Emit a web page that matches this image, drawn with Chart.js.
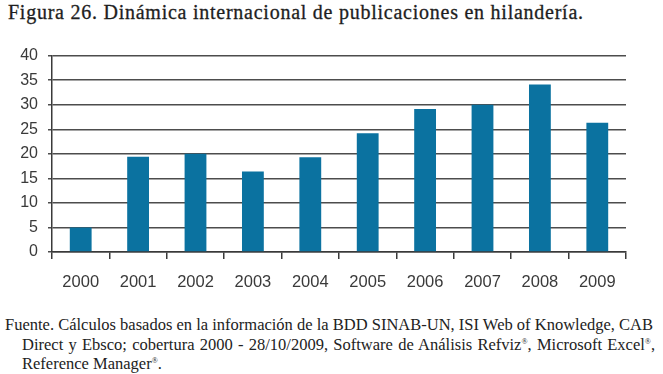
<!DOCTYPE html>
<html>
<head>
<meta charset="utf-8">
<script src="https://cdn.jsdelivr.net/npm/chart.js@4"></script>
<style>
  body { margin: 0; background: #fff; width: 663px; height: 374px; overflow: hidden; position: relative; }
  #title { position: absolute; left: 8px; top: 1px; font-family: "Liberation Serif", serif; font-size: 20px; color: #1e1e1e; white-space: nowrap; letter-spacing: 0.75px; -webkit-text-stroke: 0.3px #1e1e1e; }
  #wrap { position: absolute; left: 0; top: 36px; width: 663px; height: 259px; }
  .note { position: absolute; font-family: "Liberation Serif", serif; font-size: 16.5px; color: #222; white-space: nowrap; }
  .just { text-align: justify; text-align-last: justify; white-space: normal; }
  sup { font-size: 8px; }
</style>
</head>
<body>
<div id="title">Figura 26. Dinámica internacional de publicaciones en hilandería.</div>
<div id="wrap"><canvas id="myChart"></canvas></div>
<div class="note just" style="left:5px; top:315px; width:648px;">Fuente. Cálculos basados en la información de la BDD SINAB-UN, ISI Web of Knowledge, CAB</div>
<div class="note just" style="left:22px; top:335px; width:633px;">Direct y Ebsco; cobertura 2000 - 28/10/2009, Software de Análisis Refviz<sup>®</sup>, Microsoft Excel<sup>®</sup>,</div>
<div class="note" style="left:22px; top:354px;">Reference Manager<sup>®</sup>.</div>
<script>
const years = ['2000', '2001', '2002', '2003', '2004', '2005', '2006', '2007', '2008', '2009'];
const publicaciones = [5, 19.4, 20, 16.4, 19.3, 24.2, 29.1, 30, 34.1, 26.3];
const yTicks = [0, 5, 10, 15, 20, 25, 30, 35, 40];

const ctx = document.getElementById('myChart').getContext('2d');
new Chart(ctx, {
    type: 'bar',
    data: {
        labels: years,
        datasets: [{
            label: 'Publicaciones',
            data: publicaciones,
            backgroundColor: '#0b72a0',
            borderWidth: 0,
            categoryPercentage: 1,
            barPercentage: 0.38
        }]
    },
    options: {
        responsive: true,
        maintainAspectRatio: false,
        animation: false,
        layout: { padding: { top: 1, right: 37, left: 0, bottom: 0 } },
        plugins: {
            legend: { display: false },
            tooltip: { enabled: false }
        },
        scales: {
            y: {
                min: 0,
                max: 40,
                afterBuildTicks: function(scale) {
                    scale.ticks = yTicks.map(v => ({ value: v }));
                },
                afterFit: function(scale) { scale.width = 52; },
                grid: {
                    color: '#4d4d4d',
                    lineWidth: 1.5,
                    tickLength: 4
                },
                border: { display: true, color: '#3a3a3a', width: 1.5 },
                ticks: {
                    padding: 10,
                    color: '#3a3a3a',
                    font: { family: 'Liberation Sans', size: 16 }
                }
            },
            x: {
                afterFit: function(scale) { scale.height = 43; },
                grid: {
                    offset: true,
                    drawOnChartArea: false,
                    drawTicks: true,
                    tickLength: 7,
                    color: '#3a3a3a',
                    lineWidth: 1.5
                },
                border: { display: true, color: '#3a3a3a', width: 1.5 },
                ticks: {
                    padding: 14,
                    color: '#3a3a3a',
                    maxRotation: 0,
                    font: { family: 'Liberation Sans', size: 16.5 }
                }
            }
        }
    }
});
</script>
</body>
</html>
